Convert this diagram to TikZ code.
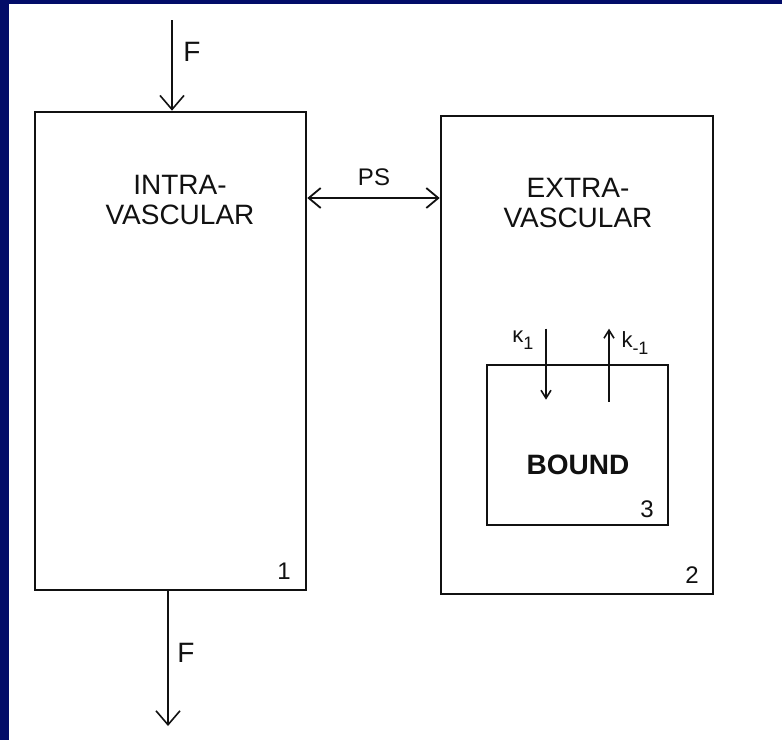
\documentclass[tikz,border=0pt]{standalone}
\usepackage{fontspec}
\setmainfont{Liberation Sans}
\usetikzlibrary{arrows.meta,calc}
\definecolor{slidebg}{HTML}{020C68}
\definecolor{ink}{HTML}{111111}
\newcommand{\ratesub}[1]{\raisebox{-3.5pt}{\fontsize{9}{9}\selectfont #1}}
\tikzset{
  compbox/.style={draw=ink, line width=1.3pt, inner sep=0pt},
  lbl/.style={text=ink, font=\fontsize{14}{15}\selectfont, align=center},
  pslbl/.style={text=ink, font=\fontsize{12}{13}\selectfont},
  numlbl/.style={text=ink, font=\fontsize{12}{13}\selectfont},
  ratelbl/.style={text=ink, font=\fontsize{11}{12}\selectfont},
  flow/.style={-{Straight Barb[length=7pt,width=12pt]}, line width=0.8pt, color=ink},
  exch/.style={{Straight Barb[length=6pt,width=10pt]}-{Straight Barb[length=6pt,width=10pt]},
               line width=0.9pt, color=ink},
  rate/.style={-{Straight Barb[length=4pt,width=5pt]}, line width=0.8pt, color=ink}}

\begin{document}
\begin{tikzpicture}[x=0.5pt, y=-0.5pt]
  \useasboundingbox (0,0) rectangle (782,740);
  \fill[white] (0,0) rectangle (782,740);
  \fill[slidebg] (0,0) rectangle (9,740);
  \fill[slidebg] (0,0) rectangle (782,4);
  % the three compartments
  \node[compbox, minimum width=135.5pt, minimum height=239pt] (intra) at (170.5,351) {};
  \node[compbox, minimum width=136pt, minimum height=239pt] (extra) at (577,355) {};
  \node[compbox, minimum width=90.5pt, minimum height=80pt] (bound) at (577.5,445) {};
  \node[lbl] (intralbl) at (180,200) {INTRA-\\VASCULAR};
  \node[lbl] (extralbl) at (578,203) {EXTRA-\\VASCULAR};
  \node[lbl, font=\fontsize{14}{15}\selectfont\bfseries] (boundlbl) at (578,465) {BOUND};
  \node[numlbl] (num1) at (284,571) {1};
  \node[numlbl] (num2) at (692,575) {2};
  \node[numlbl] (num3) at (647,509) {3};
  % flow in and out
  \coordinate (fin) at (172,20);
  \coordinate (fout) at (168,726);
  \draw[flow] (fin) -- (fin |- intra.north);
  \draw[flow] (intra.south -| fout) -- (fout);
  \node[lbl] (ftop) at (192,52) {F};
  \node[lbl] (fbot) at (186,653) {F};
  % exchange
  \coordinate (psy) at (374,198);
  \draw[exch] (intra.east |- psy) -- (extra.west |- psy);
  \node[pslbl] (ps) at (374,177) {PS};
  % binding
  \coordinate (kona) at ($(bound.north)+(-31.5,-35)$);
  \coordinate (konb) at ($(bound.north)+(-31.5,36)$);
  \coordinate (koffa) at ($(bound.north)+(31.5,38)$);
  \coordinate (koffb) at ($(bound.north)+(31.5,-35)$);
  \draw[rate] (kona) -- (konb);
  \draw[rate] (koffa) -- (koffb);
  \node[ratelbl] (kon) at (523,340) {κ\ratesub{1}};
  \node[ratelbl] (koff) at (635,343) {k\ratesub{-1}};
\end{tikzpicture}
\end{document}
